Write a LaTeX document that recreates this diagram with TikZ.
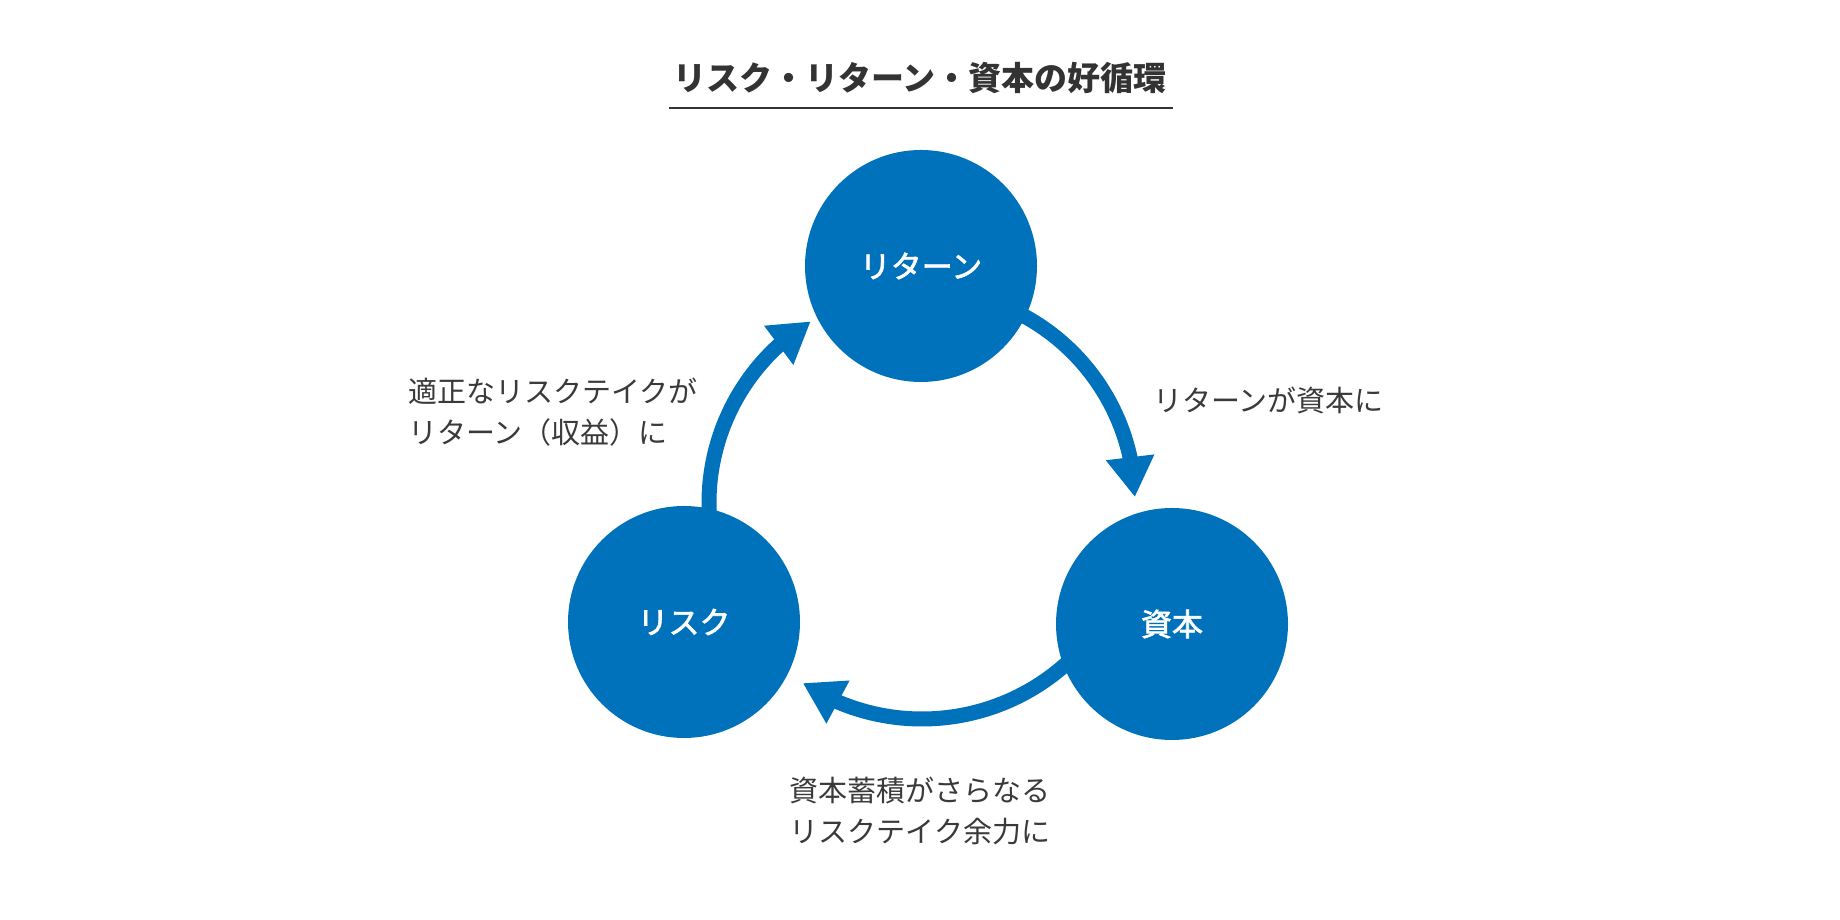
\documentclass[tikz,border=0pt]{standalone}
\usepackage{fontspec}
\setmainfont{Noto Sans CJK JP}
\newfontfamily\jpmed[FakeBold=2]{Noto Sans CJK JP}
\usetikzlibrary{arrows.meta,bending}
\definecolor{cblue}{HTML}{0072BC}
\definecolor{ctext}{HTML}{3A3A3A}
\definecolor{ctitle}{HTML}{333333}
\tikzset{
  bubble/.style={circle, fill=cblue, draw=none, inner sep=0pt, minimum size=232pt,
    text=white, font=\jpmed\fontsize{31}{31}\selectfont},
  cyclearrow/.style={draw=cblue, line width=15pt,
    -{Triangle[length=40pt,width=46pt]}},
  lbl/.style={text=ctext, inner sep=0pt, font=\fontsize{29}{41}\selectfont},
}
\begin{document}
\begin{tikzpicture}[x=1pt,y=1pt]
\useasboundingbox[fill=white] (0,0) rectangle (1840,920);
% title
\node[text=ctitle, inner sep=0pt, font=\fontsize{33}{33}\selectfont\bfseries] (title) at (920,842) {リスク・リターン・資本の好循環};
\coordinate (ul1) at (669,812);
\coordinate (ul2) at (1173,812);
\draw[ctitle, line width=2pt] (ul1) -- (ul2);
% arc centre
\coordinate (O) at (922,417);
% arrows
\draw[cyclearrow] (O) ++(185:213) arc[start angle=185, end angle=121.5, radius=213];
\draw[cyclearrow] (O) ++(70:213) arc[start angle=70, end angle=1.6, radius=213];
\draw[cyclearrow] (O) ++(-40:216) arc[start angle=-40, end angle=-123.5, radius=216];
% circles
\node[bubble] (ret) at (921,654) {リターン};
\node[bubble] (risk) at (684,298) {リスク};
\node[bubble] (cap) at (1172,296) {資本};
% labels
\node[lbl, anchor=west] (l1) at (1153,520) {リターンが資本に};
\node[lbl, anchor=west, align=left] (l2) at (408,508) {適正なリスクテイクが\\リターン（収益）に};
\node[lbl, align=center] (l3) at (920,109) {資本蓄積がさらなる\\リスクテイク余力に};
\end{tikzpicture}
\end{document}
